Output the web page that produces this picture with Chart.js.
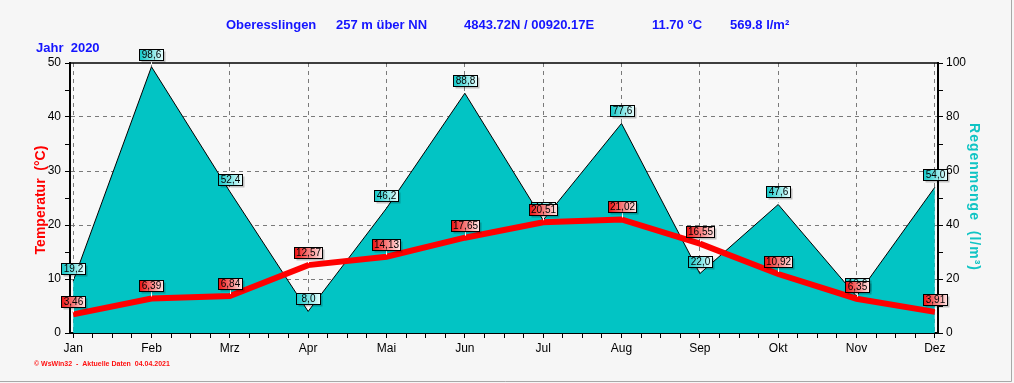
<!DOCTYPE html>
<html>
<head>
<meta charset="utf-8">
<script src="https://cdn.jsdelivr.net/npm/chart.js@4"></script>
<style>
    html, body { margin: 0; padding: 0; background: #f6f6f6; }
    canvas { display: block; }
</style>
</head>
<body>
<canvas id="climateCanvas" width="1014" height="383"></canvas>
<script>
// monthly values for 2020
const months = ['Jan', 'Feb', 'Mrz', 'Apr', 'Mai', 'Jun', 'Jul', 'Aug', 'Sep', 'Okt', 'Nov', 'Dez'];
const temperature = [3.46, 6.39, 6.84, 12.57, 14.13, 17.65, 20.51, 21.02, 16.55, 10.92, 6.35, 3.91];
const rain = [19.2, 98.6, 52.4, 8.0, 46.2, 88.8, 41.8, 77.6, 22.0, 47.6, 13.6, 54.0];
const tempTicks = [0, 10, 20, 30, 40, 50];
const rainTicks = [0, 20, 40, 60, 80, 100];

const FONT = 'Arial, "Liberation Sans", sans-serif';

// draws one value tag (box with gradient + shadow) above a point
function drawTag(ctx, x, yPoint, text, dark, light) {
    ctx.save();
    ctx.font = '10px ' + FONT;
    const w = Math.max(24, Math.round(ctx.measureText(text).width) + 3);
    const h = 11;
    const bx = Math.round(x - w / 2) + 0.5;
    const by = Math.round(yPoint - 7 - h) + 0.5;
    // little white connector down to the point
    ctx.strokeStyle = '#ffffff';
    ctx.lineWidth = 1;
    ctx.beginPath();
    ctx.moveTo(Math.round(x) + 0.5, by + h);
    ctx.lineTo(Math.round(x) + 0.5, yPoint - 2);
    ctx.stroke();
    // shadow
    ctx.fillStyle = 'rgba(0,0,0,0.22)';
    ctx.fillRect(bx + 2, by + 2, w, h);
    const g = ctx.createLinearGradient(bx, 0, bx + w, 0);
    g.addColorStop(0, dark);
    g.addColorStop(1, light);
    ctx.fillStyle = g;
    ctx.fillRect(bx, by, w, h);
    ctx.strokeStyle = '#000000';
    ctx.strokeRect(bx, by, w, h);
    ctx.fillStyle = '#000000';
    ctx.textAlign = 'center';
    ctx.textBaseline = 'middle';
    ctx.fillText(text, bx + w / 2, by + h / 2 + 0.5);
    ctx.restore();
}

const decorations = {
    id: 'decorations',
    beforeDraw(chart) {
        const ctx = chart.ctx;
        const a = chart.chartArea;
        ctx.save();
        ctx.fillStyle = '#f6f6f6';
        ctx.fillRect(0, 0, chart.width, chart.height);
        ctx.fillStyle = '#f8f8f8';
        ctx.fillRect(a.left, a.top, a.right - a.left, a.bottom - a.top);
        // frame on right / bottom edge
        ctx.strokeStyle = '#a8a8a8';
        ctx.lineWidth = 1;
        ctx.beginPath();
        ctx.moveTo(1011.5, 0);
        ctx.lineTo(1011.5, 381.5);
        ctx.lineTo(0, 381.5);
        ctx.stroke();
        ctx.restore();
    },
    beforeDatasetsDraw(chart) {
        const ctx = chart.ctx;
        const a = chart.chartArea;
        ctx.save();
        ctx.strokeStyle = '#000000';
        ctx.lineWidth = 1.5;
        ctx.beginPath();
        ctx.moveTo(a.left, a.top);
        ctx.lineTo(a.right, a.top);
        ctx.stroke();
        ctx.restore();
    },
    afterDatasetsDraw(chart) {
        const ctx = chart.ctx;
        const xs = chart.scales.x;
        const yT = chart.scales.y;
        const yR = chart.scales.y1;

        // rain tags first, temperature tags on top
        rain.forEach((v, i) => {
            drawTag(ctx, xs.getPixelForValue(i), yR.getPixelForValue(v), v.toFixed(1).replace('.', ','), '#10c8c8', '#eaffff');
        });
        temperature.forEach((v, i) => {
            drawTag(ctx, xs.getPixelForValue(i), yT.getPixelForValue(v), v.toFixed(2).replace('.', ','), '#f01010', '#ffe8e8');
        });

        ctx.save();
        // header line
        ctx.font = 'bold 13px ' + FONT;
        ctx.fillStyle = '#1414ff';
        ctx.textBaseline = 'middle';
        ctx.textAlign = 'left';
        ctx.fillText('Oberesslingen', 226, 25);
        ctx.fillText('257 m über NN', 336, 25);
        ctx.fillText('4843.72N / 00920.17E', 464, 25);
        ctx.fillText('11.70 °C', 652, 25);
        ctx.fillText('569.8 l/m²', 730, 25);
        ctx.fillText('Jahr  2020', 36, 48);

        // left axis title
        ctx.save();
        ctx.translate(41, 200);
        ctx.rotate(-Math.PI / 2);
        ctx.font = 'bold 14px ' + FONT;
        ctx.fillStyle = '#ff0000';
        ctx.textAlign = 'center';
        ctx.fillText('Temperatur  (°C)', 0, 0);
        ctx.restore();

        // right axis title, spaced letters
        ctx.save();
        ctx.translate(974, 197);
        ctx.rotate(Math.PI / 2);
        ctx.font = 'bold 14px ' + FONT;
        ctx.letterSpacing = '1px';
        ctx.fillStyle = '#10c4c4';
        ctx.textAlign = 'center';
        ctx.fillText('Regenmenge  (l/m³)', 0, 0);
        ctx.restore();

        // footer
        ctx.font = 'bold 7px ' + FONT;
        ctx.fillStyle = '#ff1010';
        ctx.textAlign = 'left';
        ctx.fillText('© WsWin32  -  Aktuelle Daten  04.04.2021', 34, 364);
        ctx.restore();
    }
};

const ctx = document.getElementById('climateCanvas').getContext('2d');
new Chart(ctx, {
    type: 'line',
    data: {
        labels: months,
        datasets: [{
            label: 'Temperatur',
            data: temperature.map((v, i) => ({ x: i, y: v })),
            yAxisID: 'y',
            borderColor: '#ff0000',
            borderWidth: 6,
            pointRadius: 0,
            tension: 0,
            fill: false
        }, {
            label: 'Regenmenge',
            data: rain.map((v, i) => ({ x: i, y: v })),
            yAxisID: 'y1',
            borderColor: '#000000',
            borderWidth: 1,
            backgroundColor: '#02c4c4',
            pointRadius: 0,
            tension: 0,
            fill: 'origin'
        }]
    },
    options: {
        responsive: false,
        animation: false,
        layout: { padding: { top: 63, left: 0, right: 0, bottom: 0 } },
        plugins: {
            legend: { display: false },
            tooltip: { enabled: false }
        },
        scales: {
            x: {
                type: 'linear',
                min: -0.04,
                max: 11.04,
                afterBuildTicks: s => {
                    const t = [];
                    for (let k = 0; k <= 44; k++) t.push({ value: k / 4 });
                    s.ticks = t;
                },
                afterFit: s => { s.height = 50; },
                ticks: {
                    autoSkip: false,
                    maxRotation: 0,
                    padding: 3,
                    color: '#000000',
                    font: { family: FONT, size: 12 },
                    callback: v => Number.isInteger(v) ? months[v] : ''
                },
                grid: {
                    color: c => (c.tick && Number.isInteger(c.tick.value)) ? '#7a7a7a' : 'rgba(0,0,0,0)',
                    tickColor: '#000000',
                    tickLength: 5,
                    lineWidth: 1
                },
                border: { display: true, color: '#000000', width: 2, dash: [4, 4] }
            },
            y: {
                position: 'left',
                min: 0,
                max: 50,
                afterBuildTicks: s => {
                    const t = [];
                    for (let v = 0; v <= 50; v += 5) t.push({ value: v });
                    s.ticks = t;
                },
                afterFit: s => { s.width = 70; },
                ticks: {
                    padding: 4,
                    color: '#000000',
                    font: { family: FONT, size: 12 },
                    callback: v => tempTicks.includes(v) ? v : ''
                },
                grid: {
                    color: c => (c.tick && tempTicks.includes(c.tick.value) && c.tick.value > 0 && c.tick.value < 50) ? '#7a7a7a' : 'rgba(0,0,0,0)',
                    tickColor: '#000000',
                    tickLength: 5,
                    lineWidth: 1
                },
                border: { display: true, color: '#000000', width: 2, dash: [4, 4] }
            },
            y1: {
                position: 'right',
                min: 0,
                max: 100,
                afterBuildTicks: s => {
                    const t = [];
                    for (let v = 0; v <= 100; v += 5) t.push({ value: v });
                    s.ticks = t;
                },
                afterFit: s => { s.width = 76; },
                ticks: {
                    padding: 3,
                    color: '#000000',
                    font: { family: FONT, size: 12 },
                    callback: v => rainTicks.includes(v) ? v : ''
                },
                grid: {
                    drawOnChartArea: false,
                    tickColor: '#000000',
                    tickLength: 5
                },
                border: { display: true, color: '#000000', width: 2 }
            }
        }
    },
    plugins: [decorations]
});
</script>
</body>
</html>
